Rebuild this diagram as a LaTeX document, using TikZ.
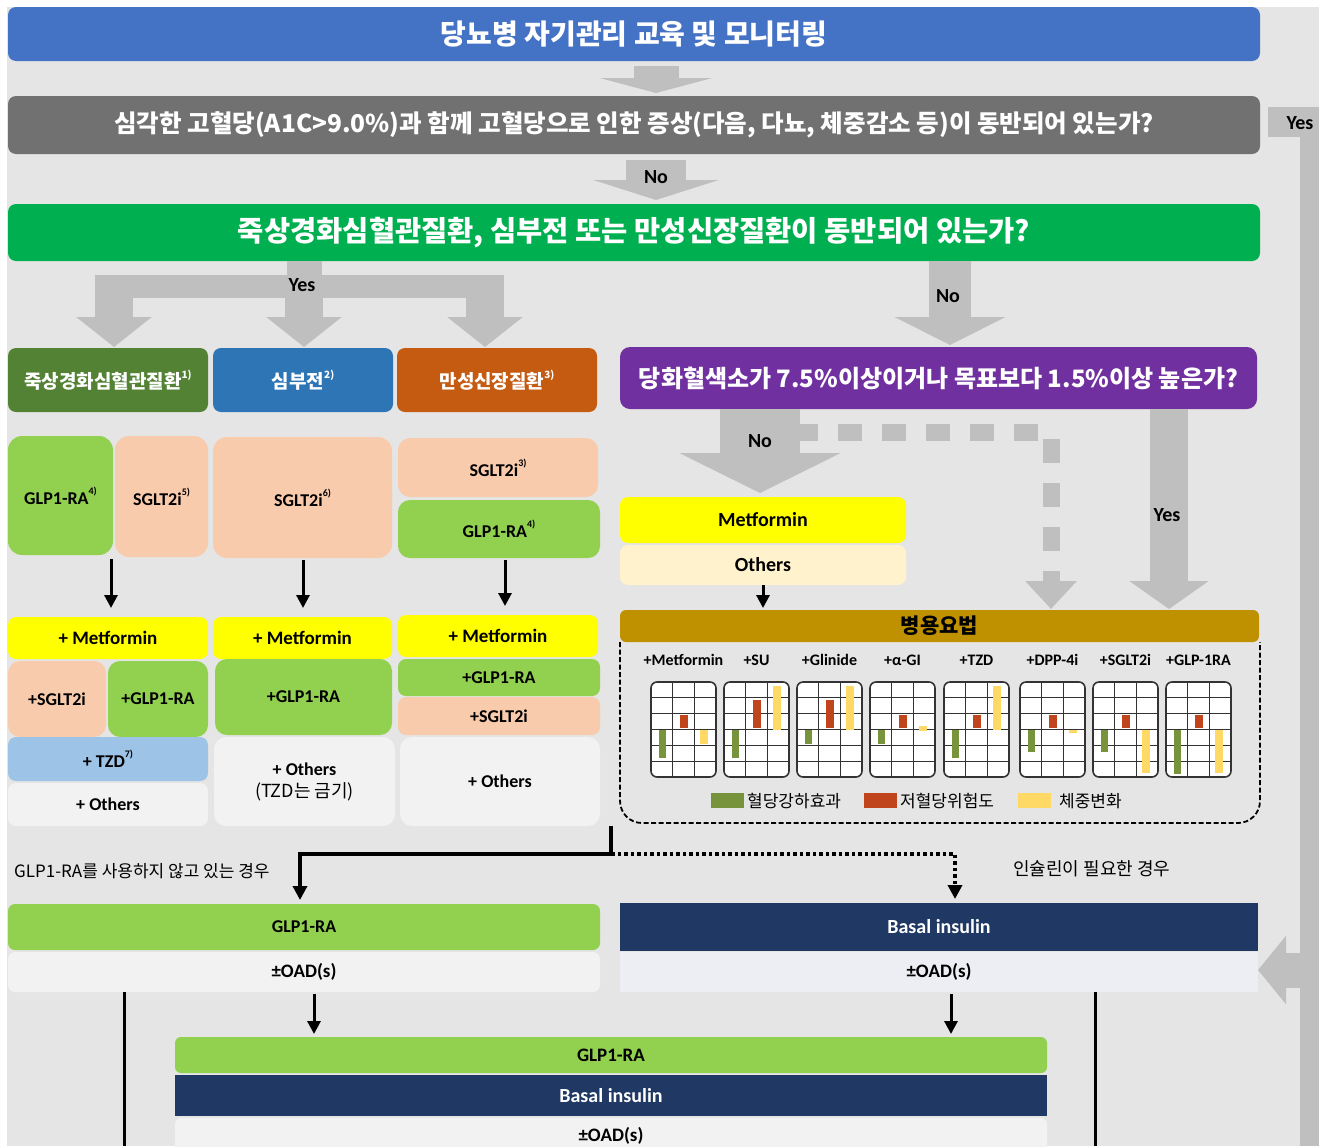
\documentclass[tikz,border=0pt]{standalone}
\usepackage{fontspec}
\setmainfont{Carlito}
\newfontfamily\kr{Noto Sans CJK KR}
\usetikzlibrary{arrows.meta,calc}
\definecolor{bgc}{HTML}{E5E5E5}
\definecolor{tblue}{HTML}{4472C4}
\definecolor{dgray}{HTML}{717171}
\definecolor{agray}{HTML}{BFBFBF}
\definecolor{qgreen}{HTML}{00B050}
\definecolor{cgreen}{HTML}{548235}
\definecolor{cblue}{HTML}{2E75B6}
\definecolor{corange}{HTML}{C55A11}
\definecolor{purp}{HTML}{7030A0}
\definecolor{lgreen}{HTML}{92D050}
\definecolor{peach}{HTML}{F8CBAD}
\definecolor{yel}{HTML}{FFFF00}
\definecolor{lyel}{HTML}{FFF2CC}
\definecolor{lblue}{HTML}{9DC3E6}
\definecolor{lgray}{HTML}{F2F2F2}
\definecolor{gold}{HTML}{BF9000}
\definecolor{navy}{HTML}{203864}
\definecolor{lav}{HTML}{EDEDF4}
\definecolor{gridc}{HTML}{333333}
\definecolor{barg}{HTML}{77933C}
\definecolor{barr}{HTML}{C0441C}
\definecolor{bary}{HTML}{FFD966}
\newcommand\fsz[1]{\fontsize{#1}{#1}\selectfont}
\newcommand\sps[1]{\raisebox{0.55em}{\fsz{10}#1}}
% box node from corners: style, name, x1, y1, x2, y2, text
\newcommand\bxn[7]{\node[#1,minimum width={#5-#3},minimum height={#6-#4}] (#2) at ({(#3+#5)/2},{(#4+#6)/2}) {#7};}
\newcommand\mchart[6]{%
 \begin{scope}[shift={(#1,682)}]
  \fill[white,rounded corners=6pt] (0,0) rectangle (65,95);
  \foreach \gx in {21.67,43.33} \draw[gridc,line width=1.3pt] (\gx,0) -- (\gx,95);
  \foreach \gy in {1,...,5} \draw[gridc,line width=1.3pt] (0,\gy*15.83) -- (65,\gy*15.83);
  \fill[barg] (8,47.5) rectangle (15,{47.5+(#3)*15.83});
  \fill[barr] (29,46) rectangle (37,{46-(#4)*15.83});
  \fill[bary] (49,{47.5-(#5)*15.83}) rectangle (57,{47.5-(#6)*15.83});
  \draw[gridc,line width=1.6pt,rounded corners=6pt] (0,0) rectangle (65,95);
 \end{scope}
 \node[lat=16] (cl#1) at ({#1+32.5},660) {#2};
}
\begin{document}
\begin{tikzpicture}[x=1pt,y=-1pt,
 bx/.style={inner sep=0pt,outer sep=0pt,rounded corners=#1},
 bx/.default=7pt,
 krt/.style={font=\kr\bfseries\fsz{#1}},
 lat/.style={font=\bfseries\fsz{#1},inner sep=0pt},
 garr/.style={draw=agray,line width=#1},
 blk/.style={draw=black,line width=3pt,-{Triangle[width=13pt,length=13pt]}},
]
\useasboundingbox (0,0) rectangle (1319,1146);
\fill[bgc] (7,7) rectangle (1319,1146);

% ---------- main boxes ----------
\bxn{bx=8pt,fill=tblue,text=white,krt=28}{title}{8}{7}{1260}{61}{당뇨병 자기관리 교육 및 모니터링}
\bxn{bx=8pt,fill=dgray,text=white,krt=24.5}{q1}{8}{96}{1260}{154}{심각한 고혈당(A1C>9.0\%)과 함께 고혈당으로 인한 증상(다음, 다뇨, 체중감소 등)이 동반되어 있는가?}
\bxn{bx=8pt,fill=qgreen,text=white,krt=28.5}{q2}{8}{204}{1260}{261}{죽상경화심혈관질환, 심부전 또는 만성신장질환이 동반되어 있는가?}

\bxn{bx=8pt,fill=cgreen,text=white,krt=19}{c1}{8}{348}{208}{412}{죽상경화심혈관질환\sps{1)}}
\bxn{bx=8pt,fill=cblue,text=white,krt=19}{c2}{213}{348}{393}{412}{심부전\sps{2)}}
\bxn{bx=8pt,fill=corange,text=white,krt=19}{c3}{397}{348}{597}{412}{만성신장질환\sps{3)}}
\bxn{bx=10pt,fill=purp,text=white,krt=24}{p}{620}{347}{1257}{409}{당화혈색소가 7.5\%이상이거나 목표보다 1.5\%이상 높은가?}

% ---------- left drug boxes ----------
\bxn{bx=14pt,fill=lgreen,lat=18}{d1}{8}{436}{113}{555}{GLP1-RA\sps{4)}}
\bxn{bx=14pt,fill=peach,lat=18}{d2}{115}{436}{208}{557}{SGLT2i\sps{5)}}
\bxn{bx=14pt,fill=peach,lat=18}{d3}{213}{437}{392}{558}{SGLT2i\sps{6)}}
\bxn{bx=12pt,fill=peach,lat=18}{d4}{398}{438}{598}{497}{SGLT2i\sps{3)}}
\bxn{bx=12pt,fill=lgreen,lat=18}{d5}{398}{500}{600}{558}{GLP1-RA\sps{4)}}

\bxn{bx=8pt,fill=yel,lat=19}{m1}{8}{617}{208}{659}{+ Metformin}
\bxn{bx=8pt,fill=yel,lat=19}{m2}{213}{617}{392}{659}{+ Metformin}
\bxn{bx=8pt,fill=yel,lat=19}{m3}{398}{615}{598}{657}{+ Metformin}

\bxn{bx=12pt,fill=peach,lat=18}{e1}{8}{661}{106}{737}{+SGLT2i}
\bxn{bx=12pt,fill=lgreen,lat=18}{e2}{108}{661}{208}{737}{+GLP1-RA}
\bxn{bx=12pt,fill=lgreen,lat=18}{e3}{215}{659}{392}{735}{+GLP1-RA}
\bxn{bx=8pt,fill=lgreen,lat=18}{e4}{398}{659}{600}{696}{+GLP1-RA}
\bxn{bx=8pt,fill=peach,lat=18}{e5}{398}{697}{600}{735}{+SGLT2i}

\bxn{bx=8pt,fill=lblue,lat=18}{t1}{8}{737}{208}{781}{+ TZD\sps{7)}}
\bxn{bx=8pt,fill=lgray,lat=18}{o1}{8}{783}{208}{826}{+ Others}
\bxn{bx=12pt,fill=lgray,lat=18,align=center}{o2}{214}{737}{395}{826}{+ Others\\[4pt]{\kr\mdseries\fsz{18}(TZD는 금기)}}
\bxn{bx=12pt,fill=lgray,lat=18}{o3}{400}{737}{600}{826}{+ Others}

% ---------- right side ----------
\bxn{bx=8pt,fill=yel,lat=20}{mf}{620}{497}{906}{543}{Metformin}
\bxn{bx=8pt,fill=lyel,lat=20}{ot}{620}{545}{906}{585}{Others}
\bxn{bx=6pt,fill=gold,krt=21}{combo}{620}{610}{1259}{642}{병용요법}
\draw[black,line width=1.8pt,dash pattern=on 5pt off 2.5pt,rounded corners=22pt] (620,642) -- (620,823) -- (1260,823) -- (1260,642);

\mchart{651}{+Metformin}{1.8}{0.85}{0}{-0.9}
\mchart{724}{+SU}{1.8}{1.75}{0}{2.75}
\mchart{797}{+Glinide}{0.9}{1.75}{0}{2.75}
\mchart{870}{+α-GI}{0.9}{0.85}{-0.1}{0.2}
\mchart{944}{+TZD}{1.8}{0.85}{0}{2.75}
\mchart{1020}{+DPP-4i}{1.4}{0.85}{0}{-0.25}
\mchart{1093}{+SGLT2i}{1.45}{0.85}{0}{-2.75}
\mchart{1166}{+GLP-1RA}{2.8}{0.85}{0}{-2.75}

\fill[barg] (711,793) rectangle (744,808);
\node[font=\kr\fsz{17},inner sep=0pt,anchor=west] (lg1) at (747,801) {혈당강하효과};
\fill[barr] (864,793) rectangle (897,808);
\node[font=\kr\fsz{17},inner sep=0pt,anchor=west] (lg2) at (900,801) {저혈당위험도};
\fill[bary] (1018,793) rectangle (1051,808);
\node[font=\kr\fsz{17},inner sep=0pt,anchor=west] (lg3) at (1059,801) {체중변화};

% ---------- lower boxes ----------
\bxn{bx=7pt,fill=lgreen,lat=18}{g1}{8}{904}{600}{950}{GLP1-RA}
\bxn{bx=7pt,fill=lgray,lat=19}{oad1}{8}{952}{600}{992}{±OAD(s)}
\bxn{bx=0pt,fill=navy,lat=20,text=white}{b1}{620}{903}{1258}{951}{Basal insulin}
\bxn{bx=0pt,fill=lav,lat=19}{oad2}{620}{952}{1258}{992}{±OAD(s)}
\bxn{bx=6pt,fill=lgreen,lat=19}{g2}{175}{1037}{1047}{1073}{GLP1-RA}
\bxn{bx=0pt,fill=navy,lat=20,text=white}{b2}{175}{1075}{1047}{1116}{Basal insulin}
\bxn{bx=6pt,fill=lgray,lat=19}{oad3}{175}{1118}{1047}{1154}{±OAD(s)}

% ---------- gray block arrows ----------
\coordinate (ax0) at (656,0);
\draw[garr=45pt,-{Triangle[width=112pt,length=15pt]},shorten <=5pt,shorten >=3pt] (title.south -| ax0) -- (q1.north -| ax0);
\draw[garr=60pt,-{Triangle[width=125pt,length=20pt]},shorten <=6pt,shorten >=4pt] (q1.south -| ax0) -- (q2.north -| ax0);
\node[lat=20] (no1) at (656,177) {No};

\bxn{bx=0pt,fill=agray}{yesbox}{1268}{107}{1319}{137}{}
\node[lat=20] (yes1) at (1300,123) {Yes};
\coordinate (ybtop) at (1309.5,137);
\coordinate (ybbot) at (1309.5,1146);
\draw[garr=20pt] (ybtop) -- (ybbot);
\coordinate (lar) at (1300,970);
\draw[garr=35pt,-{Triangle[width=67pt,length=28pt]}] (lar) -- (lar -| oad2.east);

\coordinate (yL) at (114,286);
\coordinate (yM) at (304,286);
\coordinate (yR) at (485,286);
\draw[garr=35pt] (q2.south -| yM) -- (yM);
\draw[garr=23pt] ($(yL)+(-19,0)$) -- ($(yR)+(19,0)$);
\draw[garr=38pt,-{Triangle[width=74pt,length=30pt]},shorten >=1pt] ($(yL)+(0,-11)$) -- (c1.north -| yL);
\draw[garr=38pt,-{Triangle[width=74pt,length=30pt]},shorten >=1pt] ($(yM)+(0,-11)$) -- (c2.north -| yM);
\draw[garr=38pt,-{Triangle[width=74pt,length=30pt]},shorten >=1pt] ($(yR)+(0,-11)$) -- (c3.north -| yR);
\node[lat=20] (yes0) at (302,285) {Yes};

\coordinate (nX) at (950,0);
\draw[garr=42pt,-{Triangle[width=110pt,length=28pt]},shorten >=2pt] (q2.south -| nX) -- (p.north -| nX);
\node[lat=20] (no2) at (948,296) {No};

\coordinate (n2X) at (760,0);
\draw[garr=80pt,-{Triangle[width=160pt,length=40pt]},shorten >=4pt] (p.south -| n2X) -- (mf.north -| n2X);
\node[lat=20] (no3) at (760,441) {No};

\coordinate (dsS) at (800,432);
\coordinate (dX) at (1051,0);
\draw[garr=17pt,dash pattern=on 24pt off 20pt,dash phase=6pt,-{Triangle[width=50pt,length=28pt]},shorten >=1pt] (dsS) -| (combo.north -| dX);

\coordinate (yX) at (1169,0);
\draw[garr=38pt,-{Triangle[width=78pt,length=28pt]},shorten >=1pt] (p.south -| yX) -- (combo.north -| yX);
\node[lat=20] (yes2) at (1167,515) {Yes};

% ---------- black arrows ----------
\coordinate (k1) at (111,0);
\coordinate (k2) at (303,0);
\coordinate (k3) at (505,0);
\draw[blk,shorten <=2pt,shorten >=9pt] (d2.south -| k1) -- (m1.north -| k1);
\draw[blk,shorten <=2pt,shorten >=9pt] (d3.south -| k2) -- (m2.north -| k2);
\draw[blk,shorten <=2pt,shorten >=9pt] (d5.south -| k3) -- (m3.north -| k3);
\draw[blk,shorten >=2pt] (ot.south) -- (combo.north -| ot.south);

\coordinate (s0) at (611,826);
\coordinate (jn) at (611,854);
\coordinate (eX) at (300,0);
\coordinate (dX2) at (955,0);
\draw[black,line width=3.5pt,dash pattern=on 3.5pt off 3pt,-{Triangle[width=14pt,length=14pt]},shorten >=4pt] (jn) -| (b1.north -| dX2);
\draw[black,line width=3.5pt,-{Triangle[width=14pt,length=14pt]},shorten >=4pt] (s0) -- (jn) -| (g1.north -| eX);
\node[font=\kr\fsz{17},inner sep=0pt,anchor=west] (lblL) at (14,871) {GLP1-RA를 사용하지 않고 있는 경우};
\node[font=\kr\fsz{18},inner sep=0pt,anchor=west] (lblR) at (1013,869) {인슐린이 필요한 경우};

\coordinate (vL) at (124,1146);
\coordinate (vR) at (1095,1146);
\draw[line width=3pt] (oad1.south -| vL) -- (vL);
\draw[line width=3pt] (oad2.south -| vR) -- (vR);
\coordinate (aL) at (314,0);
\coordinate (aR) at (951,0);
\draw[blk,shorten <=2pt,shorten >=3pt] (oad1.south -| aL) -- (g2.north -| aL);
\draw[blk,shorten <=2pt,shorten >=3pt] (oad2.south -| aR) -- (g2.north -| aR);
\end{tikzpicture}
\end{document}
